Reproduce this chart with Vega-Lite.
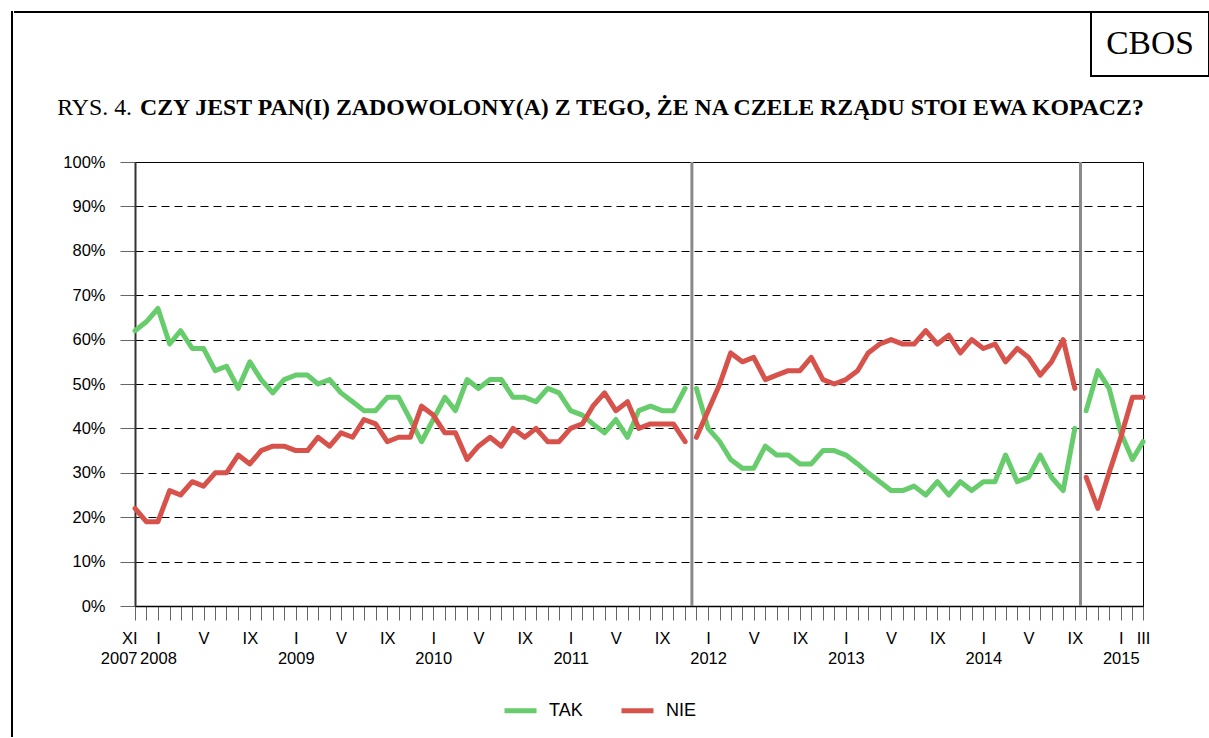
{
  "$schema": "https://vega.github.io/schema/vega-lite/v6.json",
  "padding": {"left": 11, "top": 11, "right": 0, "bottom": 0},
  "background": "white",
  "config": {"view": {"stroke": null}, "font": "Liberation Sans"},
  "spacing": 0,
  "bounds": "full",
  "hconcat": [
    {"width": 0.01, "height": 724, "view": {"stroke": "#000", "strokeWidth": 2}, "data": {"values": []}, "mark": "point"},
    {
      "spacing": 0,
      "bounds": "full",
      "vconcat": [
        {
          "spacing": 0,
          "bounds": "flush",
          "hconcat": [
            {"width": 1076, "height": 0.01, "view": {"stroke": "#000", "strokeWidth": 2}, "data": {"values": []}, "mark": "point"},
            {
              "width": 118, "height": 64, "view": {"stroke": "#000", "strokeWidth": 2},
              "data": {"values": [{"label": "CBOS"}]},
              "mark": {"type": "text", "font": "Liberation Serif", "fontSize": 33.5, "color": "#000"},
              "encoding": {"text": {"field": "label"}}
            }
          ]
        },
        {
          "spacing": 0,
          "bounds": "flush",
          "hconcat": [
            {"width": 120, "height": 75.75, "view": {"fill": "#fff", "stroke": null}, "data": {"values": []}, "mark": "point"},
            {
              "width": 0.01, "height": 75.75,
              "layer": [
                {
                  "data": {"values": [{"t": "RYS. 4."}]},
                  "mark": {"type": "text", "align": "right", "baseline": "alphabetic", "dx": -3, "font": "Liberation Serif", "fontSize": 23.8, "fontWeight": "normal", "color": "#000"},
                  "encoding": {"text": {"field": "t"}}
                },
                {
                  "data": {"values": [{"t": "CZY JEST PAN(I) ZADOWOLONY(A) Z TEGO, ŻE NA CZELE RZĄDU STOI EWA KOPACZ?"}]},
                  "mark": {"type": "text", "align": "left", "baseline": "alphabetic", "dx": 5, "font": "Liberation Serif", "fontSize": 23.8, "fontWeight": "bold", "color": "#000"},
                  "encoding": {"text": {"field": "t"}}
                }
              ]
            }
          ]
        },
        {
          "spacing": 0,
          "bounds": "flush",
          "hconcat": [
            {"width": 120, "height": 444, "view": {"fill": "#fff", "stroke": null}, "data": {"values": []}, "mark": "point"},
            {
              "width": 1008,
              "height": 444,
              "view": {"stroke": "#000", "strokeWidth": 1},
              "layer": [
                {
                  "data": {"values": [{"date": "2011-11-19"}, {"date": "2014-09-16"}]},
                  "mark": {"type": "rule", "color": "#8a8a8a", "strokeWidth": 3},
                  "encoding": {"x": {"field": "date", "type": "temporal", "title": null}}
                },
                {
                  "data": {"values": [
                    {"month": "2007-11-01", "seg": 1, "TAK": 62, "NIE": 22},
                    {"month": "2007-12-01", "seg": 1, "TAK": 64, "NIE": 19},
                    {"month": "2008-01-01", "seg": 1, "TAK": 67, "NIE": 19},
                    {"month": "2008-02-01", "seg": 1, "TAK": 59, "NIE": 26},
                    {"month": "2008-03-01", "seg": 1, "TAK": 62, "NIE": 25},
                    {"month": "2008-04-01", "seg": 1, "TAK": 58, "NIE": 28},
                    {"month": "2008-05-01", "seg": 1, "TAK": 58, "NIE": 27},
                    {"month": "2008-06-01", "seg": 1, "TAK": 53, "NIE": 30},
                    {"month": "2008-07-01", "seg": 1, "TAK": 54, "NIE": 30},
                    {"month": "2008-08-01", "seg": 1, "TAK": 49, "NIE": 34},
                    {"month": "2008-09-01", "seg": 1, "TAK": 55, "NIE": 32},
                    {"month": "2008-10-01", "seg": 1, "TAK": 51, "NIE": 35},
                    {"month": "2008-11-01", "seg": 1, "TAK": 48, "NIE": 36},
                    {"month": "2008-12-01", "seg": 1, "TAK": 51, "NIE": 36},
                    {"month": "2009-01-01", "seg": 1, "TAK": 52, "NIE": 35},
                    {"month": "2009-02-01", "seg": 1, "TAK": 52, "NIE": 35},
                    {"month": "2009-03-01", "seg": 1, "TAK": 50, "NIE": 38},
                    {"month": "2009-04-01", "seg": 1, "TAK": 51, "NIE": 36},
                    {"month": "2009-05-01", "seg": 1, "TAK": 48, "NIE": 39},
                    {"month": "2009-06-01", "seg": 1, "TAK": 46, "NIE": 38},
                    {"month": "2009-07-01", "seg": 1, "TAK": 44, "NIE": 42},
                    {"month": "2009-08-01", "seg": 1, "TAK": 44, "NIE": 41},
                    {"month": "2009-09-01", "seg": 1, "TAK": 47, "NIE": 37},
                    {"month": "2009-10-01", "seg": 1, "TAK": 47, "NIE": 38},
                    {"month": "2009-11-01", "seg": 1, "TAK": 42, "NIE": 38},
                    {"month": "2009-12-01", "seg": 1, "TAK": 37, "NIE": 45},
                    {"month": "2010-01-01", "seg": 1, "TAK": 42, "NIE": 43},
                    {"month": "2010-02-01", "seg": 1, "TAK": 47, "NIE": 39},
                    {"month": "2010-03-01", "seg": 1, "TAK": 44, "NIE": 39},
                    {"month": "2010-04-01", "seg": 1, "TAK": 51, "NIE": 33},
                    {"month": "2010-05-01", "seg": 1, "TAK": 49, "NIE": 36},
                    {"month": "2010-06-01", "seg": 1, "TAK": 51, "NIE": 38},
                    {"month": "2010-07-01", "seg": 1, "TAK": 51, "NIE": 36},
                    {"month": "2010-08-01", "seg": 1, "TAK": 47, "NIE": 40},
                    {"month": "2010-09-01", "seg": 1, "TAK": 47, "NIE": 38},
                    {"month": "2010-10-01", "seg": 1, "TAK": 46, "NIE": 40},
                    {"month": "2010-11-01", "seg": 1, "TAK": 49, "NIE": 37},
                    {"month": "2010-12-01", "seg": 1, "TAK": 48, "NIE": 37},
                    {"month": "2011-01-01", "seg": 1, "TAK": 44, "NIE": 40},
                    {"month": "2011-02-01", "seg": 1, "TAK": 43, "NIE": 41},
                    {"month": "2011-03-01", "seg": 1, "TAK": 41, "NIE": 45},
                    {"month": "2011-04-01", "seg": 1, "TAK": 39, "NIE": 48},
                    {"month": "2011-05-01", "seg": 1, "TAK": 42, "NIE": 44},
                    {"month": "2011-06-01", "seg": 1, "TAK": 38, "NIE": 46},
                    {"month": "2011-07-01", "seg": 1, "TAK": 44, "NIE": 40},
                    {"month": "2011-08-01", "seg": 1, "TAK": 45, "NIE": 41},
                    {"month": "2011-09-01", "seg": 1, "TAK": 44, "NIE": 41},
                    {"month": "2011-10-01", "seg": 1, "TAK": 44, "NIE": 41},
                    {"month": "2011-11-01", "seg": 1, "TAK": 49, "NIE": 37},
                    {"month": "2011-12-01", "seg": 2, "TAK": 49, "NIE": 38},
                    {"month": "2012-01-01", "seg": 2, "TAK": 40, "NIE": 44},
                    {"month": "2012-02-01", "seg": 2, "TAK": 37, "NIE": 50},
                    {"month": "2012-03-01", "seg": 2, "TAK": 33, "NIE": 57},
                    {"month": "2012-04-01", "seg": 2, "TAK": 31, "NIE": 55},
                    {"month": "2012-05-01", "seg": 2, "TAK": 31, "NIE": 56},
                    {"month": "2012-06-01", "seg": 2, "TAK": 36, "NIE": 51},
                    {"month": "2012-07-01", "seg": 2, "TAK": 34, "NIE": 52},
                    {"month": "2012-08-01", "seg": 2, "TAK": 34, "NIE": 53},
                    {"month": "2012-09-01", "seg": 2, "TAK": 32, "NIE": 53},
                    {"month": "2012-10-01", "seg": 2, "TAK": 32, "NIE": 56},
                    {"month": "2012-11-01", "seg": 2, "TAK": 35, "NIE": 51},
                    {"month": "2012-12-01", "seg": 2, "TAK": 35, "NIE": 50},
                    {"month": "2013-01-01", "seg": 2, "TAK": 34, "NIE": 51},
                    {"month": "2013-02-01", "seg": 2, "TAK": 32, "NIE": 53},
                    {"month": "2013-03-01", "seg": 2, "TAK": 30, "NIE": 57},
                    {"month": "2013-04-01", "seg": 2, "TAK": 28, "NIE": 59},
                    {"month": "2013-05-01", "seg": 2, "TAK": 26, "NIE": 60},
                    {"month": "2013-06-01", "seg": 2, "TAK": 26, "NIE": 59},
                    {"month": "2013-07-01", "seg": 2, "TAK": 27, "NIE": 59},
                    {"month": "2013-08-01", "seg": 2, "TAK": 25, "NIE": 62},
                    {"month": "2013-09-01", "seg": 2, "TAK": 28, "NIE": 59},
                    {"month": "2013-10-01", "seg": 2, "TAK": 25, "NIE": 61},
                    {"month": "2013-11-01", "seg": 2, "TAK": 28, "NIE": 57},
                    {"month": "2013-12-01", "seg": 2, "TAK": 26, "NIE": 60},
                    {"month": "2014-01-01", "seg": 2, "TAK": 28, "NIE": 58},
                    {"month": "2014-02-01", "seg": 2, "TAK": 28, "NIE": 59},
                    {"month": "2014-03-01", "seg": 2, "TAK": 34, "NIE": 55},
                    {"month": "2014-04-01", "seg": 2, "TAK": 28, "NIE": 58},
                    {"month": "2014-05-01", "seg": 2, "TAK": 29, "NIE": 56},
                    {"month": "2014-06-01", "seg": 2, "TAK": 34, "NIE": 52},
                    {"month": "2014-07-01", "seg": 2, "TAK": 29, "NIE": 55},
                    {"month": "2014-08-01", "seg": 2, "TAK": 26, "NIE": 60},
                    {"month": "2014-09-01", "seg": 2, "TAK": 40, "NIE": 49},
                    {"month": "2014-10-01", "seg": 3, "TAK": 44, "NIE": 29},
                    {"month": "2014-11-01", "seg": 3, "TAK": 53, "NIE": 22},
                    {"month": "2014-12-01", "seg": 3, "TAK": 49, "NIE": 30},
                    {"month": "2015-01-01", "seg": 3, "TAK": 39, "NIE": 38},
                    {"month": "2015-02-01", "seg": 3, "TAK": 33, "NIE": 47},
                    {"month": "2015-03-01", "seg": 3, "TAK": 37, "NIE": 47}
                  ]},
                  "transform": [{"fold": ["TAK", "NIE"], "as": ["answer", "value"]}],
                  "mark": {"type": "line", "strokeWidth": 5, "strokeCap": "round", "strokeJoin": "round"},
                  "encoding": {
                    "x": {
                      "field": "month", "type": "temporal", "title": null,
                      "scale": {"type": "utc", "nice": false, "domain": [{"year": 2007, "month": 11, "date": 1, "utc": true}, {"year": 2015, "month": 3, "date": 1, "utc": true}]},
                      "axis": {
                        "tickCount": {"interval": "month", "step": 1},
                        "grid": false,
                        "tickSize": 14, "tickColor": "#666", "tickWidth": 1,
                        "domainColor": "#000", "domainWidth": 1.5,
                        "labelFont": "Liberation Sans", "labelFontSize": 16.5, "labelColor": "#000",
                        "labelPadding": 10, "labelLineHeight": 20,
                        "labelFlush": false, "labelOverlap": false, "labelBound": false,
                        "labelAlign": {"condition": {"test": "utcyear(datum.value) == 2007", "value": "right"}, "value": "center"},
                        "labelOffset": {"condition": {"test": "utcyear(datum.value) == 2007", "value": 2}, "value": 0},
                        "labelExpr": "utcmonth(datum.value) == 0 ? ['I', '' + utcyear(datum.value)] : utcmonth(datum.value) == 4 ? 'V' : utcmonth(datum.value) == 8 ? 'IX' : (utcmonth(datum.value) == 10 && utcyear(datum.value) == 2007) ? ['XI', '2007'] : (utcmonth(datum.value) == 2 && utcyear(datum.value) == 2015) ? 'III' : ''"
                      }
                    },
                    "y": {
                      "field": "value", "type": "quantitative", "title": null,
                      "scale": {"domain": [0, 100], "nice": false},
                      "axis": {
                        "values": [0, 10, 20, 30, 40, 50, 60, 70, 80, 90, 100],
                        "labelExpr": "datum.value + '%'",
                        "grid": true, "gridDash": [8, 5], "gridColor": "#000", "gridWidth": 1,
                        "tickSize": 15, "tickColor": "#666",
                        "domainColor": "#333", "domainWidth": 2,
                        "labelFont": "Liberation Sans", "labelFontSize": 16.5, "labelColor": "#000",
                        "labelPadding": 15
                      }
                    },
                    "color": {
                      "field": "answer", "type": "nominal",
                      "scale": {"domain": ["TAK", "NIE"], "range": ["#67CC6C", "#D7524B"]},
                      "legend": {
                        "orient": "none", "legendX": 490, "legendY": 680, "direction": "horizontal",
                        "title": null, "symbolType": "stroke", "symbolSize": 1024, "symbolStrokeWidth": 5,
                        "labelFont": "Liberation Sans", "labelFontSize": 18, "labelColor": "#000",
                        "labelOffset": 10, "columnPadding": 28, "padding": 0
                      }
                    },
                    "detail": {"field": "seg", "type": "nominal"}
                  }
                }
              ]
            }
          ]
        }
      ]
    }
  ]
}
